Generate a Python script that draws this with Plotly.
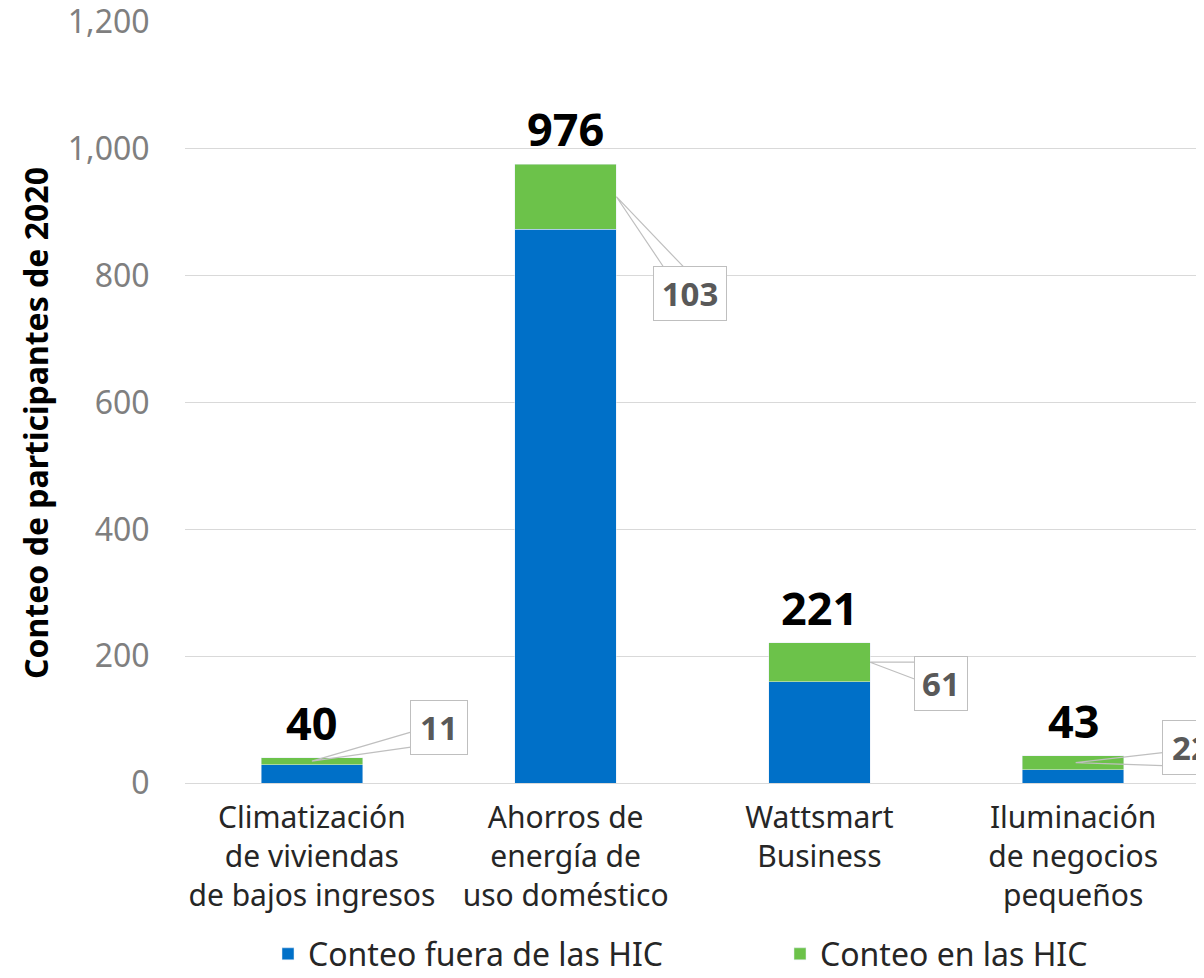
import plotly.graph_objects as go

categories = [
    "Climatización<br>de viviendas<br>de bajos ingresos",
    "Ahorros de<br>energía de<br>uso doméstico",
    "Wattsmart<br>Business",
    "Iluminación<br>de negocios<br>pequeños",
]
outside_hic = [29, 873, 160, 21]
inside_hic = [11, 103, 61, 22]
totals = [40, 976, 221, 43]
series_names = ["Conteo fuera de las HIC", "Conteo en las HIC"]

BLUE = "#0070c8"
GREEN = "#6cc24a"
FONT = "Noto Sans"

# callout placement (pixels, screen coords: +x right, +y down)
# tip_dx: where the leader touches the bar, in category units from bar centre
TIP_DX = [0.0, 0.2, 0.2, 0.01]
BOX_OFFSET = [(127, -34), (74, 97), (71, 21), (115, -15)]
WEDGE_BASE = [((99, -29), (99, -14)), ((47, 70), (67, 70)),
              ((45, 0), (45, 17)), ((87, -10), (87, 3))]
BOX_W = [52, 68, 48, 52]

# the page body adds an 8px margin, so the figure is drawn 8px in from the corner
PAGE_OFF = 8
FIG_W, FIG_H = 1204 - PAGE_OFF, 978 - PAGE_OFF
# wanted plot area on the page: x 185..1200, y 22..783
PLOT_L, PLOT_W, PLOT_B, PLOT_H = 185, 1015, 783, 761

fig = go.Figure()
fig.add_trace(go.Bar(x=list(range(4)), y=outside_hic, name=series_names[0],
                     marker=dict(color=BLUE), width=0.4, legend="legend"))
fig.add_trace(go.Bar(x=list(range(4)), y=inside_hic, name=series_names[1],
                     marker=dict(color=GREEN), width=0.4, legend="legend2"))

annotations = []
shapes = []
for i, tot in enumerate(totals):
    annotations.append(dict(
        x=i, y=tot, xref="x", yref="y", text=f"<b>{tot}</b>", showarrow=False,
        yanchor="bottom", yshift=3, font=dict(family=FONT, size=45, color="#000000"),
    ))
    tip_x = i + TIP_DX[i]
    tip_y = outside_hic[i] + inside_hic[i] / 2
    (ax1, ay1), (ax2, ay2) = WEDGE_BASE[i]
    shapes.append(dict(
        type="path", xref="x", yref="y", xsizemode="pixel", ysizemode="pixel",
        xanchor=tip_x, yanchor=tip_y,
        path=f"M {ax1},{-ay1} L 0,0 L {ax2},{-ay2}",
        line=dict(color="#bfbfbf", width=1.2), layer="above",
    ))
    dx, dy = BOX_OFFSET[i]
    annotations.append(dict(
        x=tip_x, y=tip_y, xref="x", yref="y", text=f"<b>{inside_hic[i]}</b>",
        showarrow=False, xanchor="center", yanchor="middle",
        xshift=dx, yshift=-dy, width=BOX_W[i], height=49,
        bgcolor="#ffffff", bordercolor="#bfbfbf", borderwidth=1, borderpad=2,
        font=dict(family=FONT, size=33, color="#595959"),
    ))

annotations.append(dict(
    x=(35 - PLOT_L) / PLOT_W, y=(PLOT_B - 423) / PLOT_H,
    xref="paper", yref="paper", xanchor="center", yanchor="middle",
    text="<b>Conteo de participantes de 2020</b>",
    showarrow=False, textangle=-90, font=dict(family=FONT, size=32, color="#000000"),
))

legend_style = dict(orientation="h", xanchor="left", yanchor="middle",
                    y=-(954 - PLOT_B) / PLOT_H, bgcolor="rgba(0,0,0,0)",
                    font=dict(family=FONT, size=32, color="#262626"))

fig.update_layout(
    width=FIG_W, height=FIG_H,
    margin=dict(l=PLOT_L - PAGE_OFF, r=1204 - PLOT_L - PLOT_W,
                t=PLOT_B - PLOT_H - PAGE_OFF, b=978 - PLOT_B, autoexpand=False),
    barmode="stack",
    plot_bgcolor="#ffffff", paper_bgcolor="#ffffff",
    font=dict(family=FONT, color="#262626"),
    showlegend=True,
    legend=dict(x=(268 - PLOT_L) / PLOT_W, **legend_style),
    legend2=dict(x=(780 - PLOT_L) / PLOT_W, **legend_style),
    annotations=annotations,
    shapes=shapes,
    xaxis=dict(
        tickmode="array", tickvals=list(range(4)), ticktext=categories,
        range=[-0.5, 3.5], showline=True, linecolor="#d9d9d9", showgrid=False,
        tickfont=dict(family=FONT, size=30, color="#262626"), ticks="",
        ticklabelstandoff=8, automargin=False,
    ),
    yaxis=dict(
        range=[0, 1200], dtick=200, tickformat=",", showgrid=True, gridcolor="#d9d9d9",
        zeroline=False, tickfont=dict(family=FONT, size=32, color="#7f7f7f"),
        ticks="outside", ticklen=28, tickcolor="rgba(0,0,0,0)", automargin=False,
        ticklabeloverflow="allow",
    ),
)

fig.write_html("out.html")
